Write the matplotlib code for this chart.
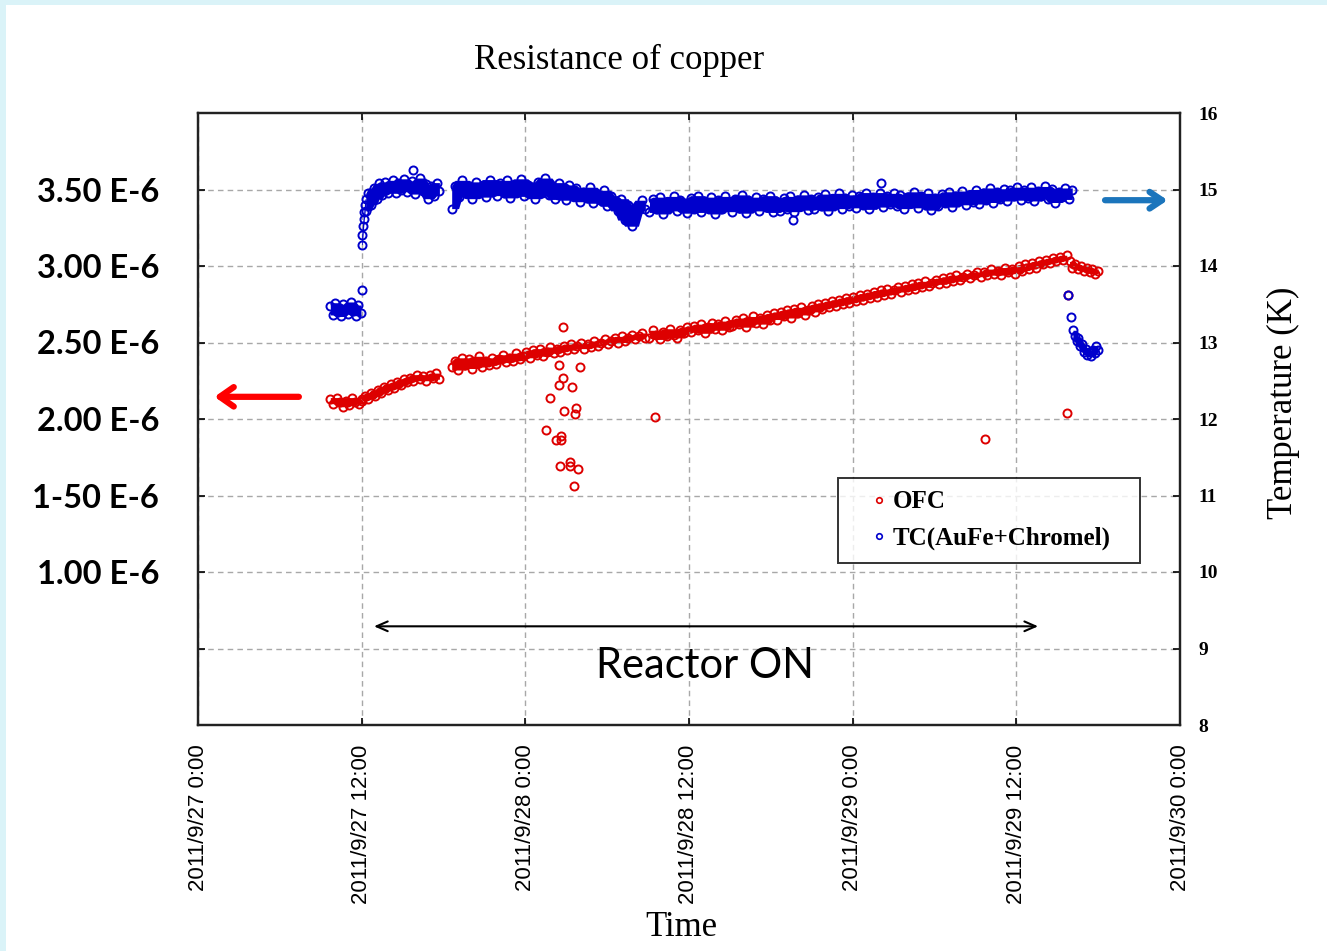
import matplotlib.pyplot as plt
from matplotlib.lines import Line2D
from matplotlib.patches import Rectangle
import numpy as np

# time axis: hours after 2011/9/27 0:00
tick_hours = [0, 12, 24, 36, 48, 60, 72]
tick_labels = ['2011/9/27 0:00', '2011/9/27 12:00', '2011/9/28 0:00',
               '2011/9/28 12:00', '2011/9/29 0:00', '2011/9/29 12:00',
               '2011/9/30 0:00']

# resistance scale (x1e-6), lined up with the temperature grid
res_ticks = [0.5, 1.0, 1.5, 2.0, 2.5, 3.0, 3.5]
res_labels = ['', '1.00 E-6', '1-50 E-6', '2.00 E-6', '2.50 E-6', '3.00 E-6', '3.50 E-6']
temp_ticks = [8, 9, 10, 11, 12, 13, 14, 15, 16]

# OFC resistance, logged in runs: (start hour, end hour) and readings (x1e-6)
ofc_spans = [(9.7, 12.0), (12.0, 17.7), (18.6, 32.8), (33.1, 63.7), (63.9, 66.0)]
ofc_a = [2.13, 2.10, 2.14, 2.11, 2.08, 2.12, 2.09, 2.14, 2.11, 2.10, 2.13]
ofc_b = [2.12, 2.15, 2.13, 2.17, 2.15, 2.19, 2.17, 2.21, 2.19, 2.23, 2.20, 2.24, 2.22,
         2.26, 2.24, 2.27, 2.25, 2.29, 2.26, 2.28, 2.25, 2.29, 2.27, 2.30, 2.26]
ofc_c = [2.34, 2.38, 2.32, 2.40, 2.35, 2.39, 2.33, 2.37, 2.41, 2.34, 2.38, 2.35, 2.40,
         2.36, 2.39, 2.42, 2.37, 2.40, 2.38, 2.43, 2.39, 2.41, 2.44, 2.40, 2.45, 2.42,
         2.46, 2.41, 2.44, 2.47, 2.43, 2.46, 2.44, 2.48, 2.45, 2.49, 2.46, 2.48, 2.50,
         2.46, 2.49, 2.47, 2.51, 2.48, 2.50, 2.52, 2.49, 2.51, 2.53, 2.50, 2.54, 2.51,
         2.53, 2.55, 2.52, 2.54, 2.56, 2.53]
ofc_d = [2.53, 2.58, 2.55, 2.52, 2.57, 2.54, 2.59, 2.55, 2.53, 2.58, 2.56, 2.60,
         2.57, 2.61, 2.58, 2.62, 2.56, 2.60, 2.63, 2.59, 2.62, 2.58, 2.64, 2.60,
         2.61, 2.65, 2.62, 2.66, 2.60, 2.64, 2.67, 2.63, 2.66, 2.62, 2.68, 2.65,
         2.69, 2.65, 2.70, 2.67, 2.71, 2.66, 2.72, 2.69, 2.73, 2.68, 2.71, 2.74,
         2.70, 2.75, 2.72, 2.76, 2.73, 2.77, 2.74, 2.78, 2.75, 2.79, 2.76, 2.80,
         2.77, 2.81, 2.78, 2.82, 2.79, 2.83, 2.80, 2.84, 2.81, 2.85, 2.82, 2.84,
         2.86, 2.83, 2.87, 2.84, 2.88, 2.85, 2.89, 2.86, 2.90, 2.87, 2.89, 2.91,
         2.88, 2.92, 2.89, 2.93, 2.90, 2.94, 2.91, 2.93, 2.95, 2.92, 2.94, 2.96,
         2.93, 2.96, 2.94, 2.98, 2.95, 2.97, 2.94, 2.99, 2.96, 2.98, 2.95, 3.00,
         2.97, 3.01, 2.98, 3.02, 2.99, 3.03, 3.01, 3.04, 3.02, 3.05, 3.03, 3.06, 3.04, 3.07]
ofc_e = [3.03, 2.99, 3.01, 2.98, 3.00, 2.97, 2.99, 2.96, 2.98, 2.95, 2.97]
ofc_runs = [ofc_a, ofc_b, ofc_c, ofc_d, ofc_e]

# isolated OFC readings
ofc_spike_h = [26.76, 26.47, 28.01, 26.76, 26.47, 27.42, 25.81, 26.83, 27.71, 27.64, 25.51,
               26.61, 26.25, 26.61, 27.27, 26.54, 27.27, 27.86, 27.57, 33.50, 57.70, 63.71, 63.78]
ofc_spike_v = [2.60, 2.35, 2.34, 2.27, 2.22, 2.21, 2.14, 2.05, 2.07, 2.03, 1.93,
               1.89, 1.86, 1.86, 1.72, 1.69, 1.69, 1.67, 1.56, 2.01, 1.87, 2.04, 2.81]

# thermocouple temperature (K), logged in runs
tc_spans = [(9.7, 11.95), (12.0, 12.3), (12.3, 17.7), (18.6, 32.8), (33.1, 64.1), (64.15, 66.0)]
tc_a = [13.48, 13.36, 13.52, 13.40, 13.34, 13.50, 13.44, 13.37, 13.53, 13.41, 13.35,
        13.49, 13.38]
tc_rise = [14.28, 14.40, 14.52, 14.62, 14.70, 14.80, 14.88]
tc_b = [14.72, 14.95, 14.80, 15.02, 14.88, 15.08, 14.93, 15.10, 14.96, 15.05, 15.12,
        14.95, 15.08, 15.00, 15.14, 14.97, 15.06, 15.11, 14.94, 15.03, 15.15, 14.98,
        15.07, 14.88, 15.04, 14.92, 15.09, 14.98]
tc_c = [14.75, 15.05, 14.90, 15.12, 14.95, 15.02, 14.88, 15.10, 14.97, 15.06, 14.90,
        15.13, 15.00, 14.92, 15.08, 14.96, 15.12, 14.89, 15.04, 14.98, 15.14, 14.91,
        15.06, 15.00, 14.88, 15.10, 14.95, 15.15, 14.93, 15.04, 14.87, 15.09, 14.98,
        14.86, 15.06, 14.92, 15.02, 14.84, 14.97, 14.90, 15.03, 14.82, 14.94, 14.86,
        14.99, 14.78, 14.92, 14.84, 14.72, 14.88, 14.60, 14.80, 14.52, 14.68, 14.78,
        14.86, 14.74]
tc_d = [14.70, 14.88, 14.75, 14.90, 14.68, 14.84, 14.78, 14.91, 14.72, 14.86, 14.80, 14.69,
        14.89, 14.74, 14.92, 14.70, 14.83, 14.77, 14.90, 14.68, 14.86, 14.75, 14.91, 14.79,
        14.71, 14.88, 14.76, 14.93, 14.69, 14.85, 14.80, 14.90, 14.72, 14.87, 14.77, 14.92,
        14.70, 14.84, 14.72, 14.89, 14.75, 14.91, 14.71, 14.86, 14.79, 14.93, 14.73, 14.88,
        14.74, 14.90, 14.78, 14.94, 14.72, 14.87, 14.81, 14.95, 14.75, 14.89, 14.79, 14.93,
        14.76, 14.91, 14.80, 14.96, 14.74, 14.90, 14.83, 14.96, 14.77, 14.92, 14.81, 14.95,
        14.78, 14.93, 14.75, 14.90, 14.82, 14.97, 14.76, 14.91, 14.84, 14.95, 14.73, 14.89,
        14.79, 14.94, 14.82, 14.97, 14.77, 14.92, 14.86, 14.98, 14.80, 14.93, 14.84, 15.00,
        14.81, 14.96, 14.86, 15.02, 14.83, 14.97, 14.88, 15.01, 14.85, 14.99, 14.91, 15.03,
        14.86, 15.00, 14.89, 15.03, 14.85, 14.98, 14.92, 15.04, 14.88, 15.01, 14.83, 14.97,
        14.90, 15.02, 14.87, 14.99]
tc_e = [13.16, 13.08, 13.02, 13.06, 12.95, 12.98, 12.88, 12.92, 12.84,
        12.87, 12.82, 12.90, 12.86, 12.95, 12.90]
tc_runs = [tc_a, tc_rise, tc_b, tc_c, tc_d, tc_e]

# isolated thermocouple readings
tc_spike_h = [12.0, 15.76, 43.6, 50.1, 63.78, 64.0]
tc_spike_v = [13.69, 15.25, 14.60, 15.08, 13.62, 13.33]

red = '#dd0000'
blue = '#0000cc'
serif = 'Liberation Serif'


def draw_run(axis, t0, t1, vals, color, half=2):
    """Markers for one logged run, with the scatter between neighbours filled in."""
    t = np.linspace(t0, t1, len(vals))
    v = np.pad(np.asarray(vals, dtype=float), half, mode='edge')
    n = len(vals)
    win = np.vstack([v[k:k + n] for k in range(2 * half + 1)])
    axis.fill_between(t, win.min(axis=0), win.max(axis=0), color=color, lw=0)
    axis.plot(t, vals, mec=color, **mk)


fig = plt.figure(figsize=(13.27, 9.51), dpi=100)
fig.patch.set_facecolor('white')
# pale blue frame along the top and left edges
for rect in [(0, 1 - 5 / 951, 1, 5 / 951), (0, 0, 6 / 1327, 1)]:
    fig.patches.append(Rectangle(rect[:2], rect[2], rect[3], transform=fig.transFigure,
                                 facecolor='#daf3f8', edgecolor='none'))

ax = fig.add_axes([198 / 1327, 226 / 951, 982 / 1327, 612 / 951])
ax2 = ax.twinx()

mk = dict(marker='o', ls='none', mfc='none', ms=5.8, mew=1.4)
for (t0, t1), vals in zip(ofc_spans, ofc_runs):
    draw_run(ax, t0, t1, vals, red)
ax.plot(ofc_spike_h, ofc_spike_v, mec=red, **mk)

for (t0, t1), vals in zip(tc_spans, tc_runs):
    draw_run(ax2, t0, t1, vals, blue, half=1 if len(vals) < 10 else 2)
ax2.plot(tc_spike_h, tc_spike_v, mec=blue, **mk)

ax.set_xlim(0, 72)
ax.set_ylim(0, 4.0)
ax2.set_ylim(8, 16)

ax.set_xticks(tick_hours)
ax.set_xticklabels(tick_labels, rotation=90, family='Liberation Sans', fontsize=16)
ax.set_yticks(res_ticks)
ax.set_yticklabels(res_labels, family='Lato', fontweight='bold', fontsize=23.5)
ax2.set_yticks(temp_ticks)
ax2.set_yticklabels([str(t) for t in temp_ticks], family=serif, fontweight='bold', fontsize=14)

ax.tick_params(axis='x', direction='in', top=True, length=5, width=1.2, pad=14)
ax.tick_params(axis='y', direction='in', length=5, width=1.2, pad=28)
ax2.tick_params(axis='y', direction='in', length=5, width=1.2, pad=13)

ax.grid(True, ls=(0, (4, 3)), color='#a8a8a8', lw=1.0)
for a in (ax, ax2):
    for s in a.spines.values():
        s.set_linewidth(1.6)
        s.set_color('#222222')

# legend
handles = [Line2D([], [], marker='o', ls='none', mfc='none', mec=red, ms=4, mew=1.2),
           Line2D([], [], marker='o', ls='none', mfc='none', mec=blue, ms=4, mew=1.2)]
leg = ax2.legend(handles, ['OFC', 'TC(AuFe+Chromel)'], loc='upper left',
                 bbox_to_anchor=(0.652, 0.404, 0.3075, 0), mode='expand',
                 borderaxespad=0, frameon=True,
                 fancybox=False, handlelength=2.24, handletextpad=-0.55,
                 borderpad=0.5, labelspacing=0.55,
                 prop={'family': serif, 'weight': 'bold', 'size': 18})
leg.get_frame().set_edgecolor('black')
leg.get_frame().set_linewidth(1.4)

# axis direction arrows and reactor period
ax2.annotate('', xy=(1.0, 12.29), xytext=(7.6, 12.29),
             arrowprops=dict(arrowstyle='->,head_length=1.0,head_width=0.7',
                             lw=4.5, color='#ff0000'))
ax2.annotate('', xy=(71.3, 14.86), xytext=(66.3, 14.86),
             arrowprops=dict(arrowstyle='->,head_length=0.9,head_width=0.6',
                             lw=4.5, color='#1b75bc'))
ax2.annotate('', xy=(61.8, 9.29), xytext=(12.7, 9.29),
             arrowprops=dict(arrowstyle='<->,head_length=0.8,head_width=0.35',
                             lw=1.5, color='black'))
ax2.text(37.2, 8.77, 'Reactor ON', ha='center', va='center', family='Lato', fontsize=30)

fig.text(619 / 1327, 1 - 60 / 951, 'Resistance of copper', ha='center', va='center',
         family=serif, fontsize=25)
fig.text(681 / 1327, 1 - 928 / 951, 'Time', ha='center', va='center', family=serif, fontsize=25)
fig.text(1283 / 1327, 1 - 403 / 951, 'Temperature (K)', ha='center', va='center',
         rotation=90, family=serif, fontsize=25)

fig.savefig('out.png', dpi=100)
